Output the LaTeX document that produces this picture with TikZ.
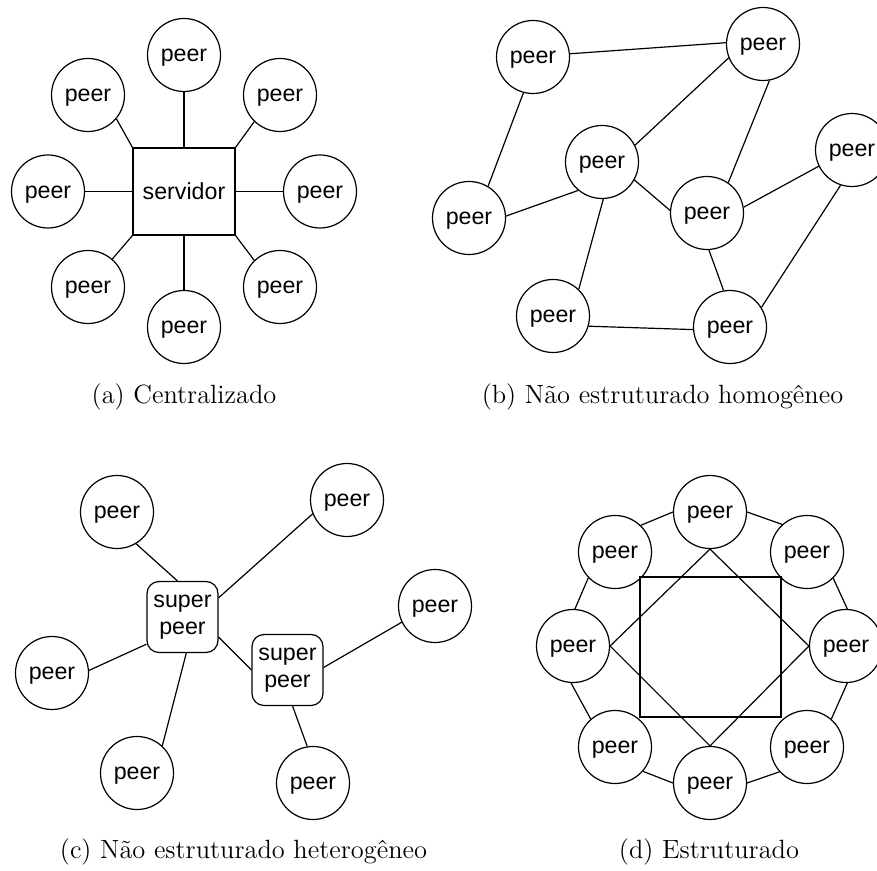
\documentclass[tikz,border=0pt]{standalone}
\usepackage{fontspec}
\newfontfamily\peerfont{Liberation Sans}
\begin{document}
\begin{tikzpicture}[x=0.5pt,y=-0.5pt,
  every node/.style={inner sep=0pt},
  lbl/.style={font=\peerfont\fontsize{11.6}{13.5}\selectfont},
  peer/.style={lbl,circle,draw,line width=0.6pt,minimum size=36.5pt,text height=0.917em,text depth=0.25em},
  srvbox/.style={lbl,rectangle,draw,line width=0.55pt,minimum width=51pt,minimum height=43.5pt},
  superbox/.style={lbl,rectangle,rounded corners=6pt,draw,line width=0.6pt,minimum width=35.5pt,minimum height=35.5pt,align=center},
  sqbox/.style={rectangle,draw,line width=0.55pt,minimum width=70.5pt,minimum height=70pt},
  capt/.style={font=\fontsize{13.2}{15}\selectfont},
  link/.style={line width=0.6pt}]
\useasboundingbox (0,0) rectangle (877,871);

% ---------- (a) Centralizado ----------
\node[srvbox] (srv) at (184,191.5) {servidor};
\node[peer] (a1) at (184,55) {peer};
\node[peer] (a2) at (88,95) {peer};
\node[peer] (a3) at (280,95) {peer};
\node[peer] (a4) at (48,191.5) {peer};
\node[peer] (a5) at (320,191.5) {peer};
\node[peer] (a6) at (88,287) {peer};
\node[peer] (a7) at (280,287) {peer};
\node[peer] (a8) at (184,327) {peer};
\draw[link] (a1) -- (srv);
\draw[link] (a8) -- (srv);
\draw[link] (a4) -- (srv);
\draw[link] (a5) -- (srv);
\draw[link] (a2.-40) -- (srv.north west);
\draw[link] (a3.226) -- (srv.north east);
\draw[link] (a6.49) -- (srv.south west);
\draw[link] (a7.134) -- (srv.south east);
\node[capt] (capa) at (184,397) {(a) Centralizado};

% ---------- (b) Nao estruturado homogeneo ----------
\node[peer] (btl) at (533,57) {peer};
\node[peer] (btr) at (763,44) {peer};
\node[peer] (brt) at (852,150) {peer};
\node[peer] (bc) at (602,162) {peer};
\node[peer] (bl) at (469,218) {peer};
\node[peer] (bmr) at (707,213) {peer};
\node[peer] (bbl) at (553,316) {peer};
\node[peer] (bbr) at (730,327) {peer};
\draw[link] (btl.5.7) -- (btr.178);
\draw[link] (btl.255.5) -- (bl.59);
\draw[link] (btr.202.4) -- (bc.27.3);
\draw[link] (btr.280) -- (bmr.55);
\draw[link] (bc.230.4) -- (bl.3);
\draw[link] (bc.331.4) -- (bmr.176);
\draw[link] (bc.272) -- (bbl.46.5);
\draw[link] (bmr.9.4) -- (brt.206.4);
\draw[link] (bmr.273.5) -- (bbr.100.5);
\draw[link] (brt.252.9) -- (bbr.32.7);
\draw[link] (bbl.344) -- (bbr.184.7);
\node[capt] (capb) at (662.5,397) {(b) Não estruturado homogêneo};

% ---------- (c) Nao estruturado heterogeneo ----------
\node[superbox] (sp1) at (182.5,617) {super\\peer};
\node[superbox] (sp2) at (287.5,670) {super\\peer};
\node[peer] (ctl) at (117,512) {peer};
\node[peer] (ctr) at (347,500) {peer};
\node[peer] (crt) at (435,606) {peer};
\node[peer] (cl) at (52,673) {peer};
\node[peer] (cbl) at (137,773) {peer};
\node[peer] (cbr) at (313,783) {peer};
\draw[link] (ctl.301) -- (sp1.98);
\draw[link] (sp1.28) -- (ctr.202);
\draw[link] (sp1.217.4) -- (cl.4.6);
\draw[link] (sp1.276) -- (cbl.47);
\draw[link] (sp1.-29) -- (sp2.180);
\draw[link] (sp2.4.6) -- (crt.206);
\draw[link] (sp2.278) -- (cbr.99.5);
\node[capt] (capc) at (243.5,852) {(c) Não estruturado heterogêneo};

% ---------- (d) Estruturado ----------
\node[sqbox] (sq) at (710.5,647) {};
\node[peer] (dt) at (710,512) {peer};
\node[peer] (dul) at (615,552) {peer};
\node[peer] (dur) at (807,552) {peer};
\node[peer] (dl) at (573,646) {peer};
\node[peer] (dr) at (846,646) {peer};
\node[peer] (dll) at (615,747) {peer};
\node[peer] (dlr) at (807,747) {peer};
\node[peer] (db) at (710,783) {peer};
\draw[link] (dt.180) -- (dul.46);
\draw[link] (dt.0) -- (dur.132);
\draw[link] (dur.315) -- (dr.88);
\draw[link] (dr.272) -- (dlr.49);
\draw[link] (dlr.222) -- (db.0);
\draw[link] (db.180) -- (dll.319);
\draw[link] (dll.131) -- (dl.267);
\draw[link] (dl.87) -- (dul.224);
\draw[link] (dt.south) -- (dl.east) -- (db.north) -- (dr.west) -- cycle;
\node[capt] (capd) at (709,852) {(d) Estruturado};
\end{tikzpicture}
\end{document}
